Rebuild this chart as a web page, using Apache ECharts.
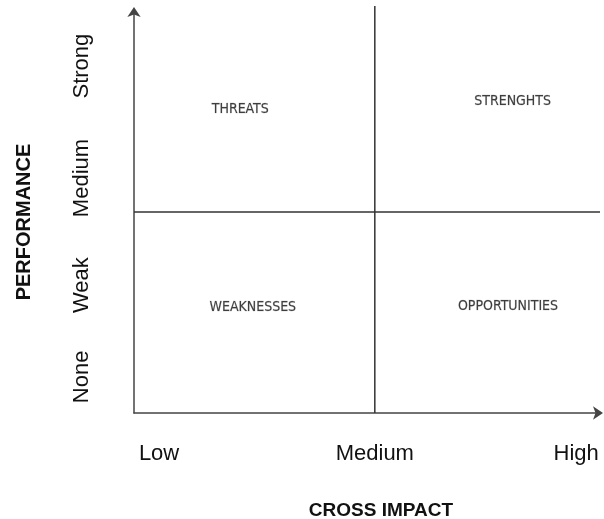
<!DOCTYPE html>
<html>
<head>
<meta charset="utf-8">
<script src="https://cdn.jsdelivr.net/npm/echarts@6/dist/echarts.min.js"></script>
<style>
html,body{margin:0;padding:0;background:#fff;}
#main{width:604px;height:519px;}
</style>
</head>
<body>
<div id="main"></div>
<script>
// Axis tick labels and their positions on a 0–100 scale
var xTickLabels = ['Low', 'Medium', 'High'];
var xTickValues = [5.4, 51.9, 95.3];
var yTickLabels = ['None', 'Weak', 'Medium', 'Strong'];
var yTickValues = [9.0, 31.9, 58.6, 86.5];

// Quadrant labels and positions
var quadrantNames = ['THREATS', 'STRENGHTS', 'WEAKNESSES', 'OPPORTUNITIES'];
var quadrantX = [22.9, 81.6, 25.6, 80.6];
var quadrantY = [75.6, 77.7, 26.4, 26.6];

// Quadrant divider lines
var verticalDivider = [[51.9, 0], [51.9, 101.5]];
var horizontalDivider = [[0, 50.1], [100.5, 50.1]];

var xAxisTitle = 'CROSS IMPACT';
var yAxisTitle = 'PERFORMANCE';

function lookup(values, labels, v) {
  var best = 0, d = Infinity;
  for (var i = 0; i < values.length; i++) {
    var dd = Math.abs(values[i] - v);
    if (dd < d) { d = dd; best = i; }
  }
  return labels[best];
}

var chart = echarts.init(document.getElementById('main'), null, {renderer: 'canvas'});
var quadrantData = quadrantNames.map(function (n, i) {
  return {name: n, value: [quadrantX[i], quadrantY[i]]};
});
var lineStyleCommon = {color: '#333333', width: 1.5};
chart.setOption({
  animation: false,
  backgroundColor: '#ffffff',
  grid: {left: 134, right: 6, top: 12, bottom: 106, containLabel: false, outerBoundsMode: 'none'},
  xAxis: {
    type: 'value', min: 0, max: 100,
    name: xAxisTitle, nameLocation: 'middle', nameGap: 88,
    nameTextStyle: {fontFamily: 'Liberation Sans, Arial, sans-serif', fontSize: 19, fontWeight: 'bold', color: '#111', padding: [0, 0, 0, 30]},
    axisLine: {show: true, lineStyle: {color: '#444444', width: 1.5}, symbol: ['none', 'arrow'], symbolSize: [10, 10], symbolOffset: [0, 5]},
    axisTick: {show: false},
    splitLine: {show: false},
    axisLabel: {
      customValues: xTickValues,
      margin: 30,
      fontFamily: 'Liberation Sans, Arial, sans-serif', fontSize: 22, color: '#111',
      formatter: function (v) { return lookup(xTickValues, xTickLabels, v); }
    }
  },
  yAxis: {
    type: 'value', min: 0, max: 100,
    name: yAxisTitle, nameLocation: 'middle', nameGap: 100, nameRotate: 90,
    nameTextStyle: {fontFamily: 'Liberation Sans, Arial, sans-serif', fontSize: 20, fontWeight: 'bold', color: '#111', padding: [0, 19, 0, 0]},
    axisLine: {show: true, lineStyle: {color: '#444444', width: 1.5}, symbol: ['none', 'arrow'], symbolSize: [10, 10], symbolOffset: [0, 5]},
    axisTick: {show: false},
    splitLine: {show: false},
    axisLabel: {
      customValues: yTickValues,
      rotate: 90,
      margin: 41,
      fontFamily: 'Liberation Sans, Arial, sans-serif', fontSize: 22, color: '#111',
      formatter: function (v) { return lookup(yTickValues, yTickLabels, v); }
    }
  },
  series: [
    {
      type: 'line', data: verticalDivider, symbol: 'none', clip: false,
      lineStyle: lineStyleCommon, silent: true
    },
    {
      type: 'line', data: horizontalDivider, symbol: 'none', clip: false,
      lineStyle: lineStyleCommon, silent: true
    },
    {
      type: 'scatter', data: quadrantData, symbolSize: 0, silent: true,
      label: {
        show: true, position: 'inside',
        formatter: function (p) { return p.name; },
        fontFamily: 'Liberation Sans Narrow, DejaVu Sans Condensed, sans-serif',
        fontSize: 14, color: '#111', textBorderColor: 'rgba(40,40,40,0.35)', textBorderWidth: 0.6
      }
    }
  ]
});
</script>
</body>
</html>
